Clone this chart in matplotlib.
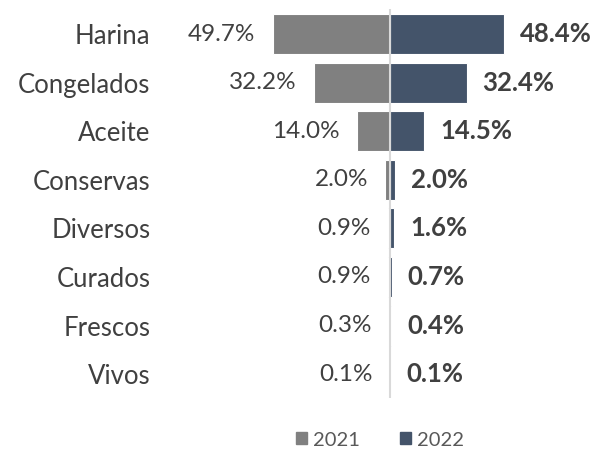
import matplotlib.pyplot as plt
from matplotlib.patches import Patch

categories = ["Harina", "Congelados", "Aceite", "Conservas", "Diversos", "Curados", "Frescos", "Vivos"]
values_2021 = [49.7, 32.2, 14.0, 2.0, 0.9, 0.9, 0.3, 0.1]
values_2022 = [48.4, 32.4, 14.5, 2.0, 1.6, 0.7, 0.4, 0.1]
series_names = ["2021", "2022"]

grey = "#808080"
navy = "#44546A"
textc = "#404040"

plt.rcParams['font.family'] = ['Lato', 'DejaVu Sans']

fig = plt.figure(figsize=(5.94, 4.49), dpi=100)
ax = fig.add_axes([160 / 594, 1 - 398 / 449, 434 / 594, 389 / 449])

ypos = list(range(len(categories)))
ax.barh(ypos, [-v for v in values_2021], height=0.82, color=grey, edgecolor="white", linewidth=0.8)
ax.barh(ypos, values_2022, height=0.82, color=navy, edgecolor="white", linewidth=0.8)
ax.axvline(0, color="#d9d9d9", linewidth=1.5, zorder=3)

for y, v1, v2 in zip(ypos, values_2021, values_2022):
    ax.annotate(f"{v1:.1f}%", (-v1, y), xytext=(-12.5, 0), textcoords="offset points",
                ha="right", va="center", fontsize=17.5, color=textc)
    ax.annotate(f"{v2:.1f}%", (v2, y), xytext=(11.5, 0), textcoords="offset points",
                ha="left", va="center", fontsize=18.5, color=textc, fontweight="bold")

ax.set_xlim(-97.5, 86.4)
ax.set_ylim(7.49, -0.515)
ax.set_yticks(ypos)
ax.set_yticklabels(categories, fontsize=18.5, color=textc)
ax.tick_params(axis="y", length=0, pad=7)
ax.set_xticks([])
for s in ax.spines.values():
    s.set_visible(False)

handles = [Patch(color=grey), Patch(color=navy)]
fig.legend(handles, series_names, loc="center", bbox_to_anchor=(380 / 594, 1 - 440 / 449),
           ncol=2, frameon=False, fontsize=14.5, labelcolor="#595959",
           handlelength=0.55, handleheight=0.55, handletextpad=0.3, columnspacing=2.0)

fig.savefig("out.png", dpi=100)
